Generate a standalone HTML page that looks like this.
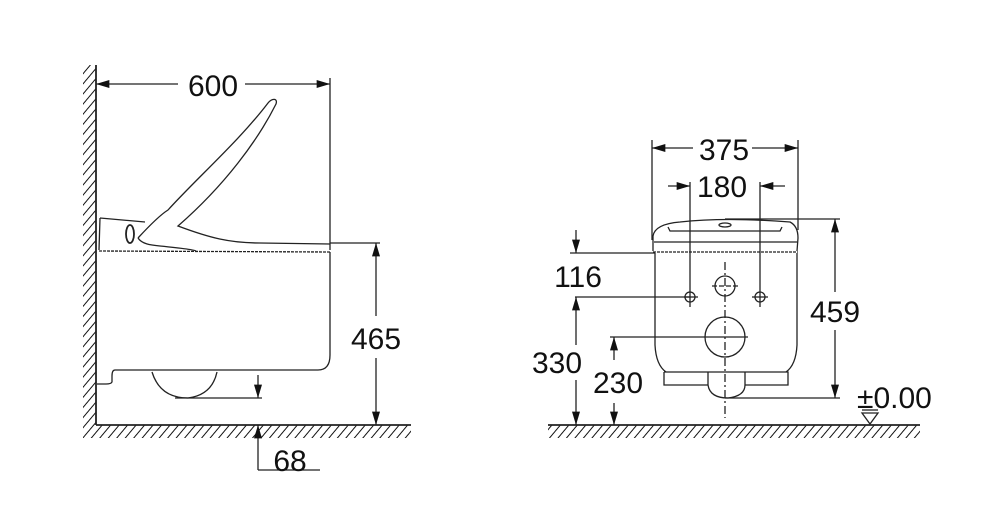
<!DOCTYPE html>
<html><head><style>html,body{margin:0;padding:0;background:#fff}svg{display:block}text{font-family:"Liberation Sans",Arial,sans-serif;fill:#111}</style></head><body>
<svg width="993" height="522" viewBox="0 0 993 522" xmlns="http://www.w3.org/2000/svg">
<defs>
<pattern id="h" width="6.5" height="6.5" patternUnits="userSpaceOnUse" patternTransform="rotate(40)">
<line x1="0" y1="0" x2="0" y2="6.5" stroke="#111" stroke-width="2"/>
</pattern>
<marker id="a" viewBox="0 0 10 6" refX="10" refY="3" markerWidth="20" markerHeight="8" markerUnits="userSpaceOnUse" orient="auto"><path d="M0,0 L10,3 L0,6z" fill="#111"/></marker>
</defs>
<g stroke="#222" stroke-width="1.3" fill="none">
<!-- LEFT VIEW -->
<rect x="83" y="65" width="13" height="360" fill="url(#h)" stroke="none"/>
<rect x="83" y="425" width="328" height="13" fill="url(#h)" stroke="none"/>
<line x1="96" y1="65" x2="96" y2="425" stroke-width="1.8"/>
<line x1="96" y1="425" x2="411" y2="425" stroke-width="1.8"/>
<!-- 600 -->
<line x1="178" y1="84" x2="96" y2="84" marker-end="url(#a)"/>
<line x1="245" y1="84" x2="330" y2="84" marker-end="url(#a)"/>
<line x1="330" y1="78" x2="330" y2="250"/>
<!-- seat/lid -->
<path d="M100,218 L145,222 M100,218 L99,250"/>
<path d="M138,238 C150,225 160,215 168,210 C195,180 240,140 268,103 C272,98 278,98 276,104 C258,140 225,185 178,226 C210,238 230,243 260,243 L330,244"/>
<path d="M138,238 C142,244 150,245 160,246 C180,248 195,250 196,251"/>
<ellipse cx="130" cy="234" rx="4" ry="9" stroke-width="1.8"/>
<line x1="99" y1="251" x2="330" y2="252" stroke-dasharray="3,1"/>
<line x1="330" y1="243" x2="380" y2="243"/>
<!-- body -->
<path d="M330,252 L330,355 Q330,370 318,370 L115,370 Q112,370 112,376 L112,382 Q111,384 106,384 L97,384"/>
<path d="M152,372 Q160,398 188,398 Q212,395 217,372"/>
<line x1="175" y1="398" x2="262" y2="398"/>
<!-- 465 -->
<line x1="376" y1="262" x2="376" y2="243" marker-end="url(#a)"/>
<line x1="376" y1="262" x2="376" y2="316"/>
<line x1="376" y1="358" x2="376" y2="425" marker-end="url(#a)"/>
<!-- 68 -->
<line x1="258" y1="375" x2="258" y2="398" marker-end="url(#a)"/>
<line x1="258" y1="470" x2="258" y2="425" marker-end="url(#a)"/>
<line x1="258" y1="470" x2="320" y2="470"/>

<!-- RIGHT VIEW -->
<rect x="548" y="425" width="372" height="13" fill="url(#h)" stroke="none"/>
<line x1="548" y1="425" x2="920" y2="425" stroke-width="1.8"/>
<!-- 375 -->
<line x1="652" y1="140" x2="652" y2="240"/>
<line x1="798" y1="140" x2="798" y2="230"/>
<line x1="693" y1="148" x2="652" y2="148" marker-end="url(#a)"/>
<line x1="752" y1="148" x2="798" y2="148" marker-end="url(#a)"/>
<!-- 180 -->
<line x1="668" y1="186" x2="690" y2="186" marker-end="url(#a)"/>
<line x1="785" y1="186" x2="760" y2="186" marker-end="url(#a)"/>
<line x1="690" y1="182" x2="690" y2="307"/>
<line x1="760" y1="182" x2="760" y2="307"/>
<!-- seat -->
<path d="M653,251 L653,236 Q655,224 680,222 Q725,217 790,222 Q798,226 798,238 L797,251"/>
<path d="M668,227 L670,231 L780,231 L782,227"/>
<ellipse cx="725" cy="225" rx="6" ry="2"/>
<line x1="654" y1="242" x2="797" y2="242"/>
<line x1="653" y1="252" x2="798" y2="252" stroke-dasharray="3,1"/>
<line x1="725" y1="219" x2="840" y2="219"/>
<!-- body -->
<path d="M655,253 L655,345 Q656,365 666,372 M797,253 L797,345 Q796,365 786,372"/>
<path d="M664,372 L664,385 L708,385 M745,385 L788,385 L788,372 L664,372"/>
<path d="M708,372 L708,385 Q710,398 728,398 Q745,396 745,385 L745,372"/>
<line x1="725" y1="262" x2="725" y2="418" stroke-dasharray="8,3,2,3"/>
<circle cx="725" cy="286" r="10"/>
<line x1="712" y1="286" x2="738" y2="286" stroke-dasharray="5,2"/>
<circle cx="690" cy="297" r="5"/>
<line x1="684" y1="297" x2="698" y2="297"/>
<circle cx="760" cy="297" r="5"/>
<line x1="752" y1="297" x2="768" y2="297"/>
<circle cx="725" cy="337" r="20"/>
<line x1="610" y1="337" x2="748" y2="337"/>
<line x1="570" y1="253" x2="655" y2="253"/>
<line x1="575" y1="297" x2="690" y2="297"/>
<!-- 116 -->
<line x1="576" y1="230" x2="576" y2="253" marker-end="url(#a)"/>
<!-- 330 -->
<line x1="576" y1="345" x2="576" y2="297" marker-end="url(#a)"/>
<line x1="576" y1="380" x2="576" y2="425" marker-end="url(#a)"/>
<!-- 230 -->
<line x1="614" y1="360" x2="614" y2="337" marker-end="url(#a)"/>
<line x1="614" y1="403" x2="614" y2="425" marker-end="url(#a)"/>
<!-- 459 -->
<line x1="835" y1="292" x2="835" y2="219" marker-end="url(#a)"/>
<line x1="835" y1="330" x2="835" y2="398" marker-end="url(#a)"/>
<line x1="725" y1="398" x2="840" y2="398"/>
<!-- datum -->
<path d="M862,413 L878,413 L870,424 Z"/>
<line x1="862" y1="410" x2="878" y2="410"/>
</g>
<g font-size="30">
<text x="213" y="96" text-anchor="middle">600</text>
<text x="376" y="349" text-anchor="middle">465</text>
<text x="290" y="471" text-anchor="middle">68</text>
<text x="724" y="160" text-anchor="middle">375</text>
<text x="722" y="197" text-anchor="middle">180</text>
<text x="578" y="287" text-anchor="middle">116</text>
<text x="557" y="373" text-anchor="middle">330</text>
<text x="618" y="393" text-anchor="middle">230</text>
<text x="835" y="322" text-anchor="middle">459</text>
<text x="857" y="408">±0.00</text>
</g>
</svg>
</body></html>
